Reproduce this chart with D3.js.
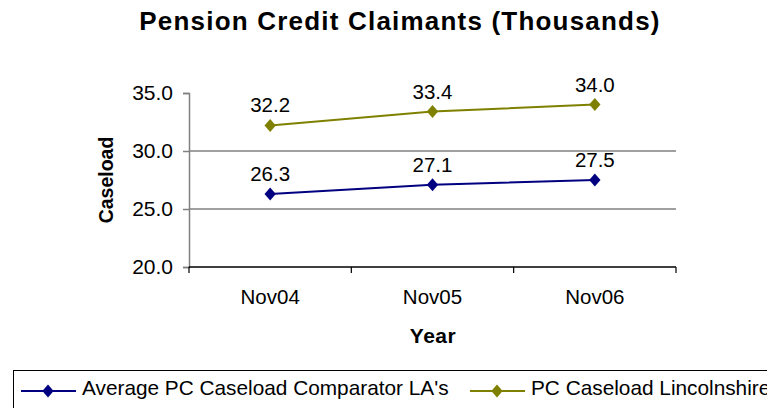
<!DOCTYPE html>
<html>
<head>
<meta charset="utf-8">
<script src="https://cdn.jsdelivr.net/npm/d3@7"></script>
<style>
  body { margin: 0; background: #fff; }
  svg { display: block; font-family: "Liberation Sans", Arial, sans-serif; }
</style>
</head>
<body>
<div class="chart"></div>
<script>
const years = ["Nov04", "Nov05", "Nov06"];
const comparator = [26.3, 27.1, 27.5];
const lincolnshire = [32.2, 33.4, 34.0];
const yTicks = [20, 25, 30, 35];

const series = [
  { name: "Average PC Caseload Comparator LA's", values: comparator, color: "#000080" },
  { name: "PC Caseload Lincolnshire", values: lincolnshire, color: "#808000" }
];

const width = 767, height = 408;
const plot = { left: 189, right: 676, top: 93, bottom: 267 };

const svg = d3.select(".chart")
  .append("svg")
  .attr("width", width)
  .attr("height", height);

svg.append("text")
  .attr("x", 400)
  .attr("y", 30)
  .attr("text-anchor", "middle")
  .attr("font-size", 26)
  .attr("font-weight", "bold")
  .attr("letter-spacing", 1.2)
  .text("Pension Credit Claimants (Thousands)");

const x = d3.scaleBand()
  .domain(years)
  .range([plot.left, plot.right]);

const y = d3.scaleLinear()
  .domain([20, 35])
  .range([plot.bottom, plot.top]);

// gridlines
svg.append("g")
  .selectAll("line")
  .data(yTicks.filter(d => d > 20 && d < 35))
  .join("line")
  .attr("x1", plot.left)
  .attr("x2", plot.right)
  .attr("y1", d => y(d))
  .attr("y2", d => y(d))
  .attr("stroke", "#808080")
  .attr("stroke-width", 1.5);

// y axis
const yAxis = svg.append("g")
  .attr("transform", `translate(${plot.left},0)`)
  .call(d3.axisLeft(y).tickValues(yTicks).tickFormat(d3.format(".1f")).tickSize(6).tickPadding(10));
yAxis.select(".domain").attr("stroke", "#808080").attr("stroke-width", 1.5);
yAxis.selectAll(".tick line").attr("stroke", "#808080").attr("stroke-width", 1.5);
yAxis.selectAll(".tick text")
  .attr("font-size", 21)
  .attr("fill", "#000")
  .attr("font-family", "Liberation Sans, Arial, sans-serif");

// x axis
const xAxis = svg.append("g")
  .attr("transform", `translate(0,${plot.bottom})`);
xAxis.append("line")
  .attr("x1", plot.left)
  .attr("x2", plot.right)
  .attr("stroke", "#000")
  .attr("stroke-width", 1.5);
xAxis.selectAll(".sep")
  .data(years.map(d => x(d)).concat([plot.right]))
  .join("line")
  .attr("class", "sep")
  .attr("x1", d => d)
  .attr("x2", d => d)
  .attr("y1", 0)
  .attr("y2", 6)
  .attr("stroke", "#000")
  .attr("stroke-width", 1.2);
xAxis.selectAll(".lab")
  .data(years)
  .join("text")
  .attr("class", "lab")
  .attr("x", d => x(d) + x.bandwidth() / 2)
  .attr("y", 37)
  .attr("text-anchor", "middle")
  .attr("font-size", 20.5)
  .text(d => d);

// axis titles
svg.append("text")
  .attr("x", 433)
  .attr("y", 343)
  .attr("text-anchor", "middle")
  .attr("font-size", 21)
  .attr("font-weight", "bold")
  .attr("letter-spacing", 0.5)
  .text("Year");

svg.append("text")
  .attr("transform", `translate(113,180) rotate(-90)`)
  .attr("text-anchor", "middle")
  .attr("font-size", 19.5)
  .attr("font-weight", "bold")
  .text("Caseload");

// lines
const line = d3.line()
  .x((d, i) => x(years[i]) + x.bandwidth() / 2)
  .y(d => y(d));

const diamond = d3.symbol().type(d3.symbolDiamond).size(49);

series.forEach(s => {
  const g = svg.append("g");
  g.append("path")
    .datum(s.values)
    .attr("fill", "none")
    .attr("stroke", s.color)
    .attr("stroke-width", 2)
    .attr("d", line);
  g.selectAll("path.pt")
    .data(s.values)
    .join("path")
    .attr("class", "pt")
    .attr("transform", (d, i) => `translate(${x(years[i]) + x.bandwidth() / 2},${y(d)}) scale(1.5,1)`)
    .attr("d", diamond)
    .attr("fill", s.color);
  g.selectAll("text")
    .data(s.values)
    .join("text")
    .attr("x", (d, i) => x(years[i]) + x.bandwidth() / 2)
    .attr("y", d => y(d) - 13)
    .attr("text-anchor", "middle")
    .attr("font-size", 20.5)
    .text(d => d.toFixed(1));
});

// legend
const legend = svg.append("g");
legend.append("rect")
  .attr("x", 13.5)
  .attr("y", 370.5)
  .attr("width", 800)
  .attr("height", 60)
  .attr("fill", "none")
  .attr("stroke", "#000")
  .attr("stroke-width", 1);

const legendX = [21, 470];
series.forEach((s, i) => {
  const lx = legendX[i];
  legend.append("line")
    .attr("x1", lx)
    .attr("x2", lx + 55)
    .attr("y1", 391)
    .attr("y2", 391)
    .attr("stroke", s.color)
    .attr("stroke-width", 2);
  legend.append("path")
    .attr("transform", `translate(${lx + 27},391) scale(1.5,1)`)
    .attr("d", diamond)
    .attr("fill", s.color);
  legend.append("text")
    .attr("x", lx + 61)
    .attr("y", 395)
    .attr("font-size", 20.8)
    .text(s.name);
});
</script>
</body>
</html>
